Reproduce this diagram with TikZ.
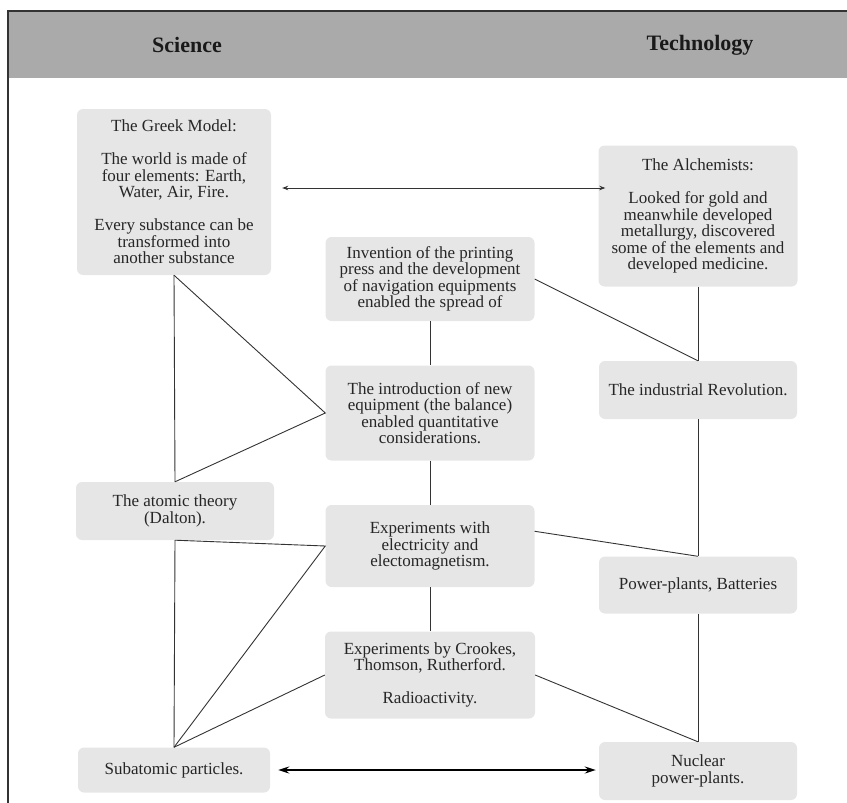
\documentclass[tikz,border=0pt]{standalone}
\usepackage{fontspec}
\setmainfont{Liberation Serif}
\usepackage{xcolor}
\usetikzlibrary{arrows.meta,positioning}
\definecolor{boxgray}{HTML}{E6E6E6}
\definecolor{bandgray}{HTML}{AAAAAA}
\definecolor{inkgray}{HTML}{333333}

\begin{document}
\begin{tikzpicture}[
    x=1pt, y=-1pt,
    box/.style={rectangle, rounded corners=6pt, fill=boxgray, text=black!85, align=center, inner sep=0pt, font=\fontsize{17}{16.5}\selectfont},
    head/.style={font=\fontsize{22}{24}\selectfont\bfseries, text=black!90},
    link/.style={draw=inkgray, line width=0.9pt},
    arrow/.style={<->, >={Stealth[length=6pt,width=4.5pt]}, draw=inkgray, line width=0.8pt},
    bigarrow/.style={<->, >={Stealth[length=11pt,width=7pt]}, draw=black, line width=1.8pt}
]
\useasboundingbox (0,0) rectangle (847,803);

% header band
\fill[bandgray] (8,11) rectangle (847,78);
\draw[inkgray, line width=1.5pt] (8,803) -- (8,11) -- (847,11);
\node[head] (sci) at (187,45) {Science};
\node[head] (tech) at (700,45) {Technology};

% science column
\node[box, minimum width=194pt, minimum height=166pt] (greek) at (174,192) {The Greek Model:\\[16.5pt] The world is made of\\ four elements: Earth,\\ Water, Air, Fire.\\[16.5pt] Every substance can be\\ transformed into\\ another substance};
\node[box, minimum width=198pt, minimum height=58pt] (atomic) at (175,511) {The atomic theory\\ (Dalton).};
\node[box, minimum width=192pt, minimum height=45pt] (subatomic) at (174,770) {Subatomic particles.};

% middle column
\node[box, minimum width=209pt, minimum height=84pt] (printing) at (430,279) {Invention of the printing\\ press and the development\\ of navigation equipments\\ enabled the spread of};
\node[box, minimum width=209pt, minimum height=95pt] (balance) at (430,413) {The introduction of new\\ equipment (the balance)\\ enabled quantitative\\ considerations.};
\node[box, minimum width=209pt, minimum height=82pt] (electricity) at (430,546) {Experiments with\\ electricity and\\ electomagnetism.};
\node[box, minimum width=210pt, minimum height=87pt] (crookes) at (430,675) {Experiments by Crookes,\\ Thomson, Rutherford.\\[16.5pt] Radioactivity.};

% technology column
\node[box, minimum width=199pt, minimum height=141pt] (alch) at (698,216) {The Alchemists:\\[16.5pt] Looked for gold and\\ meanwhile developed\\ metallurgy, discovered\\ some of the elements and\\ developed medicine.};
\node[box, minimum width=198pt, minimum height=58pt] (industrial) at (698,390) {The industrial Revolution.};
\node[box, minimum width=198pt, minimum height=57pt] (power) at (698,585) {Power-plants, Batteries};
\node[box, minimum width=198pt, minimum height=58pt] (nuclear) at (698,771) {Nuclear\\ power-plants.};

% connectors
\coordinate (topl) at ([xshift=11pt,yshift=4pt]greek.east);
\coordinate (topr) at (topl -| alch.west);
\draw[arrow] (topl) -- ([xshift=7pt]topr);
\draw[link] (greek.south) -- (atomic.north);
\draw[link] (greek.south) -- (balance.west) -- (atomic.north);
\draw[link] (printing) -- (balance);
\draw[link] (balance) -- (electricity);
\draw[link] (electricity) -- (crookes);
\draw[link] (printing.east) -- (industrial.north);
\draw[link] (alch) -- (industrial);
\draw[link] (industrial) -- (power);
\draw[link] (power) -- (nuclear);
\draw[link] (atomic.south) -- (subatomic.north);
\draw[link] (atomic.south) -- (electricity.west) -- (subatomic.north);
\draw[link] (electricity.8) -- (power.north);
\draw[link] (crookes.west) -- (subatomic.north);
\draw[link] (crookes.east) -- (nuclear.north);
\coordinate (botl) at ([xshift=8pt]subatomic.east);
\coordinate (botr) at (botl -| nuclear.west);
\draw[bigarrow] (botl) -- ([xshift=-3pt]botr);
\end{tikzpicture}
\end{document}
